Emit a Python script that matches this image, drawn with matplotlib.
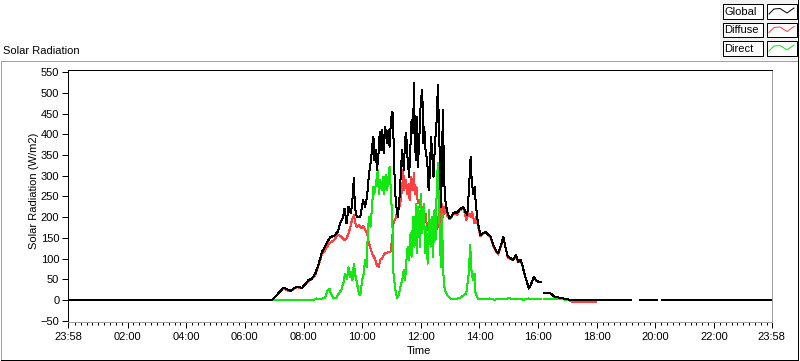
import numpy as np
import matplotlib
matplotlib.use('Agg')
import matplotlib.pyplot as plt
from matplotlib.patches import Rectangle
from matplotlib.lines import Line2D

nan = np.nan

# minutes since midnight, W/m2
glob_t = [
    -2, 415, 425, 439, 446, 453, 460, 466, 477, 484,
    490, 497, 504, 511, 518, 524, 529, 535, 542, 550,
    555, 561, 564, 568, 572, 577, 580, 583, 585, 589,
    596, 602, 606, 610, 614, 618, 621, 623, 625, 628,
    630, 633, 636, 639, 641, 644, 647, 651, 654, 656,
    659, 662, 664, 667, 670, 673, 677, 680, 682, 685,
    688, 690, 693, 696, 699, 701, 704, 706, 708, 710,
    712, 714, 717, 720, 723, 725, 727, 730, 733, 736,
    738, 741, 744, 746, 749, 752, 755, 757, 759, 761,
    763, 765, 767, 769, 772, 775, 779, 782, 786, 790,
    794, 798, 802, 807, 811, 815, 818, 822, 824, 827,
    830, 832, 835, 839, 842, 847, 852, 857, 863, 868,
    873, 878, 883, 889, 893, 898, 904, 909, 915, 919,
    924, 928, 931, 936, 941, 946, 951, 956, 961, 965,
    969, 973, 985, 994, 1002, 1011, 1028, 1151, 1160, 1168,
    1204, 1209, 1214, 1438]
glob_v = [
    0, 0, 12, 30, 26, 22, 28, 32, 30, 39,
    48, 52, 64, 88, 117, 129, 141, 153, 154, 165,
    185, 201, 221, 185, 225, 209, 241, 294, 225, 201,
    201, 241, 225, 249, 306, 338, 378, 394, 338, 362,
    314, 346, 406, 362, 410, 354, 418, 378, 410, 370,
    438, 454, 394, 265, 225, 201, 257, 330, 362, 314,
    390, 402, 338, 298, 378, 434, 402, 523, 378, 338,
    442, 322, 394, 483, 507, 378, 418, 354, 338, 265,
    298, 394, 338, 298, 378, 426, 519, 418, 338, 225,
    298, 458, 338, 249, 225, 209, 197, 201, 209, 213,
    209, 217, 221, 225, 213, 205, 257, 346, 290, 257,
    273, 241, 201, 173, 157, 161, 165, 159, 153, 133,
    121, 113, 129, 153, 129, 105, 101, 97, 109, 92,
    97, 84, 68, 48, 28, 40, 56, 48, 44, 44,
    nan, 18, 17, 8, 6, 4, 0, 0, nan, 0,
    0, nan, 0, 0]

diff_t = [
    415, 425, 439, 446, 453, 460, 466, 477, 484, 490,
    497, 504, 511, 518, 522, 528, 533, 538, 543, 547,
    551, 555, 559, 563, 568, 572, 576, 579, 583, 586,
    589, 594, 598, 602, 606, 610, 613, 617, 620, 624,
    627, 630, 634, 637, 641, 644, 647, 651, 654, 658,
    661, 664, 668, 671, 675, 678, 682, 684, 686, 689,
    692, 695, 697, 700, 703, 706, 708, 711, 714, 716,
    719, 722, 725, 727, 730, 733, 736, 738, 741, 744,
    746, 749, 752, 755, 757, 760, 763, 766, 768, 771,
    775, 779, 782, 786, 790, 794, 798, 802, 807, 813,
    818, 822, 825, 830, 834, 837, 842, 847, 852, 857,
    863, 868, 873, 878, 883, 889, 893, 898, 904, 909,
    915, 919, 924, 928, 931, 936, 941, 946, 951, 956,
    961, 965, 969, 973, 985, 994, 1002, 1011, 1028, 1030,
    1078]
diff_v = [
    0, 11, 28, 24, 21, 27, 31, 29, 37, 46,
    51, 60, 84, 113, 117, 129, 138, 141, 145, 153,
    157, 155, 151, 145, 149, 161, 177, 193, 205, 185,
    177, 181, 173, 179, 169, 161, 141, 125, 113, 105,
    97, 84, 80, 97, 101, 109, 113, 114, 117, 117,
    145, 185, 197, 209, 221, 233, 273, 314, 265, 290,
    257, 281, 241, 298, 265, 306, 257, 273, 233, 241,
    225, 201, 225, 193, 209, 169, 185, 193, 169, 185,
    177, 193, 169, 201, 177, 193, 233, 201, 225, 213,
    201, 195, 199, 207, 211, 205, 215, 218, 222, 193,
    209, 201, 213, 185, 201, 177, 155, 160, 163, 158,
    150, 132, 119, 110, 127, 151, 128, 103, 99, 97,
    107, 92, 95, 82, 66, 48, 28, 38, 55, 47,
    43, 43, nan, 17, 16, 7, 5, 3, -2, -4,
    -4]

dir_t = [
    415, 500, 507, 514, 524, 529, 533, 536, 541, 547,
    552, 557, 562, 565, 569, 572, 575, 578, 580, 583,
    586, 589, 593, 596, 600, 603, 606, 609, 612, 615,
    617, 620, 623, 625, 628, 632, 634, 637, 640, 643,
    645, 648, 651, 653, 656, 659, 662, 664, 668, 671,
    675, 678, 682, 685, 688, 690, 693, 696, 699, 701,
    704, 707, 710, 712, 715, 718, 720, 723, 726, 729,
    731, 734, 737, 740, 742, 745, 748, 750, 753, 755,
    758, 761, 763, 766, 769, 774, 781, 791, 801, 808,
    813, 818, 821, 824, 827, 830, 832, 837, 849, 860,
    870, 880, 890, 900, 910, 920, 930, 940, 950, 965,
    969, 973, 990, 1010, 1028]
dir_v = [
    0, 0, 4, 2, 6, 24, 28, 16, 4, 6,
    16, 24, 44, 64, 52, 79, 56, 68, 48, 88,
    60, 44, 16, 12, 48, 64, 97, 80, 177, 201,
    177, 225, 273, 257, 281, 314, 257, 290, 265, 298,
    257, 302, 265, 290, 322, 257, 177, 64, 24, 6,
    12, 32, 48, 72, 48, 88, 129, 97, 161, 105,
    201, 129, 233, 113, 225, 129, 257, 161, 233, 113,
    177, 88, 217, 129, 201, 105, 217, 145, 290, 330,
    193, 80, 209, 64, 24, 12, 4, 2, 6, 12,
    16, 64, 133, 64, 48, 64, 16, 3, 2, 4,
    1, 3, 2, 5, 2, 3, 1, 4, 2, 2,
    nan, 3, 3, 2, 0]

x_ticks = [-2, 120, 240, 360, 480, 600, 720, 840, 960, 1080, 1200, 1320, 1438]
x_labels = ['23:58', '02:00', '04:00', '06:00', '08:00', '10:00', '12:00',
            '14:00', '16:00', '18:00', '20:00', '22:00', '23:58']
y_ticks = list(range(-50, 551, 50))
series_names = ['Global', 'Diffuse', 'Direct']

BLACK = '#000000'
RED = '#FF4040'
GREEN = '#10E810'
GREY = '#A0A0A0'
FONT = 'Liberation Sans'
FS = 8
PX = 0.72  # one pixel in points at 100 dpi

W, H = 800, 361


def fx(x):
    return x / W


def fy(y):
    return 1 - y / H


plt.rcParams['font.family'] = [FONT, 'DejaVu Sans']
fig = plt.figure(figsize=(W / 100, H / 100), dpi=100)

# outer panel frame (sunken look)
fig.add_artist(Line2D([fx(0.5), fx(797)], [fy(61), fy(61)], color=GREY, lw=PX))
fig.add_artist(Line2D([fx(0.5), fx(0.5)], [fy(61), fy(359)], color=GREY, lw=PX))
fig.add_artist(Line2D([fx(0.5), fx(797.5)], [fy(359.5), fy(359.5)], color=BLACK, lw=PX))
fig.add_artist(Line2D([fx(797.5), fx(797.5)], [fy(0), fy(359.5)], color=BLACK, lw=PX))

# legend panel
fig.add_artist(Rectangle((fx(720), fy(60)), fx(77), 60 / H, transform=fig.transFigure,
                         facecolor='#F2F2F2', edgecolor='none', zorder=0))
legend_colors = [BLACK, RED, GREEN]
row_tops = [4, 22.5, 41]
for name, col, top in zip(series_names, legend_colors, row_tops):
    h = 14.5
    fig.add_artist(Rectangle((fx(722.5), fy(top + h)), 40 / W, h / H, transform=fig.transFigure,
                             facecolor='white', edgecolor=BLACK, lw=PX))
    fig.add_artist(Rectangle((fx(766.5), fy(top + h)), 30 / W, h / H, transform=fig.transFigure,
                             facecolor='white', edgecolor=BLACK, lw=PX))
    fig.text(fx(724.5), fy(top + h / 2 + 0.5), name, fontsize=FS, va='center', ha='left')
    sx = [769, 774, 780, 787, 794]
    sy = [top + 10, top + 5, top + 4.5, top + 9, top + 4]
    fig.add_artist(Line2D([fx(v) for v in sx], [fy(v) for v in sy], color=col, lw=PX))

fig.text(fx(3), fy(51), 'Solar Radiation', fontsize=FS, va='center', ha='left')

ax = fig.add_axes([fx(68), fy(321.7), 703.7 / W, 251.7 / H])
ax.plot(diff_t, diff_v, color=RED, lw=PX, antialiased=False, zorder=2)
ax.plot(dir_t, dir_v, color=GREEN, lw=PX, antialiased=False, zorder=3)
ax.plot(glob_t, glob_v, color=BLACK, lw=PX, antialiased=False, zorder=4)

ax.set_xlim(-2, 1438)
ax.set_ylim(-52, 555)
ax.set_xticks(x_ticks)
ax.set_xticklabels(x_labels)
ax.set_xticks([m for m in range(12, 1438, 12) if m % 120 != 0], minor=True)
ax.set_yticks(y_ticks)
ax.tick_params(axis='both', which='major', direction='out', length=4.3, width=PX,
               labelsize=FS, colors=BLACK)
ax.tick_params(axis='x', which='minor', direction='out', length=2.5, width=PX)
ax.tick_params(axis='y', which='major', pad=2)
ax.tick_params(axis='x', which='major', pad=3)

ax.spines['left'].set_color(BLACK)
ax.spines['top'].set_color(BLACK)
ax.spines['right'].set_color(GREY)
ax.spines['bottom'].set_color(GREY)
for s in ax.spines.values():
    s.set_linewidth(PX)

fig.text(fx(419), fy(351), 'Time', fontsize=FS, ha='center', va='center')
fig.text(fx(34), fy(191), 'Solar Radiation (W/m2)', fontsize=FS, ha='center', va='center',
         rotation=90)

fig.savefig('out.png', dpi=100)
